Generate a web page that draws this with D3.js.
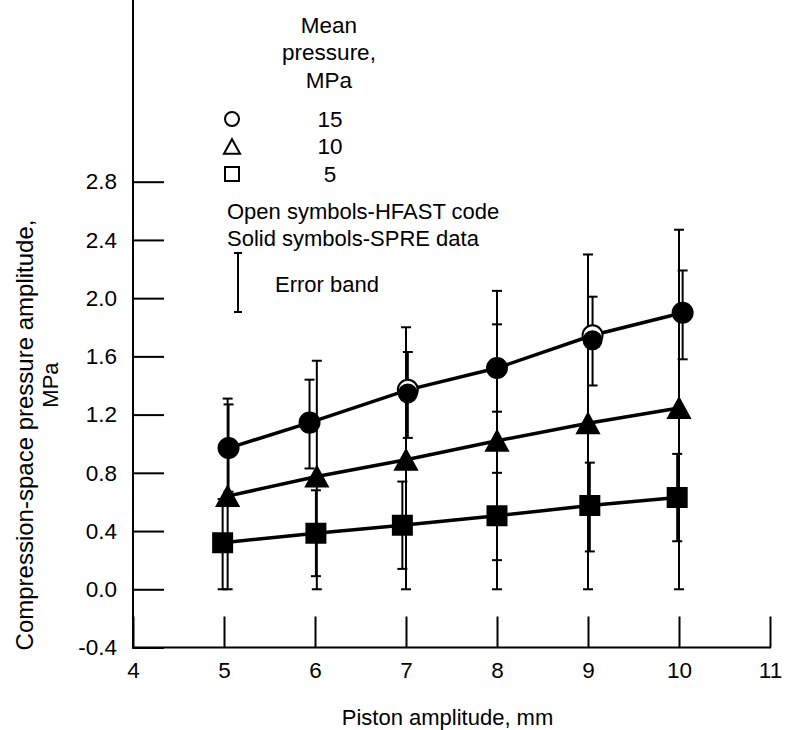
<!DOCTYPE html>
<html>
<head>
<meta charset="utf-8">
<script src="https://cdn.jsdelivr.net/npm/d3@7"></script>
<style>
  html, body { margin: 0; padding: 0; background: #fff; }
  svg text { font-family: "Liberation Sans", Arial, Helvetica, sans-serif; fill: #000; }
</style>
</head>
<body>
<svg id="chart" width="792" height="730"></svg>
<script>
// ---------- data ----------
const xTicks = [4, 5, 6, 7, 8, 9, 10, 11];
const yTicks = [-0.4, 0.0, 0.4, 0.8, 1.2, 1.6, 2.0, 2.4, 2.8];

// HFAST code (open symbols, joined by lines)
const code15 = [0.97, 1.145, 1.37, 1.52, 1.745, 1.90];
const code10 = [0.64, 0.775, 0.89, 1.02, 1.14, 1.245];
const code5  = [0.32, 0.385, 0.44, 0.505, 0.575, 0.63];

// SPRE data (solid symbols): x, value, error band low/high
const spre15X    = [5.05, 5.94, 7.02, 8.00, 9.05, 10.04];
const spre15     = [0.97, 1.145, 1.345, 1.52, 1.71, 1.90];
const spre15Lo   = [0.67, 0.83, 1.04, 1.22, 1.40, 1.58];
const spre15Hi   = [1.27, 1.44, 1.63, 1.82, 2.01, 2.19];

const spre10X    = [5.04, 6.02, 7.00, 8.00, 9.00, 10.00];
const spre10     = [0.64, 0.775, 0.89, 1.02, 1.14, 1.245];
const spre10Lo   = [0.0, 0.0, 0.0, 0.0, 0.0, 0.0];
const spre10Hi   = [1.31, 1.57, 1.80, 2.05, 2.30, 2.47];

const spre5X     = [4.985, 6.01, 6.96, 8.00, 9.02, 9.98];
const spre5      = [0.32, 0.385, 0.44, 0.505, 0.575, 0.63];
const spre5Lo    = [0.0, 0.09, 0.14, 0.20, 0.26, 0.33];
const spre5Hi    = [0.62, 0.68, 0.74, 0.80, 0.87, 0.93];

const legendPressures = ["15", "10", "5"];
const legendShapes = ["circle", "triangle", "square"];

// ---------- layout ----------
const svg = d3.select("#chart");
const x = d3.scaleLinear().domain([4, 11]).range([133, 770]);
const y = d3.scaleLinear().domain([-0.4, 2.8]).range([647.5, 181.7]);
const FS = 22.5;

function shapePath(kind, s) {
  if (kind === "circle") {
    return `M${s},0A${s},${s} 0 1,1 ${-s},0A${s},${s} 0 1,1 ${s},0Z`;
  } else if (kind === "triangle") {
    const hw = s * 1.15, hh = s * 1.05;
    return `M0,${-hh}L${hw},${hh}L${-hw},${hh}Z`;
  } else {
    return `M${-s},${-s}H${s}V${s}H${-s}Z`;
  }
}

// ---------- axes ----------
const yAxis = d3.axisLeft(y).tickValues(yTicks).tickSize(-31).tickSizeOuter(0)
  .tickPadding(16).tickFormat(d => d.toFixed(1));
const gy = svg.append("g").attr("transform", `translate(${x(4)},0)`).call(yAxis);
gy.select(".domain").remove();
gy.selectAll(".tick line").attr("stroke", "#000").attr("stroke-width", 2);
gy.selectAll(".tick text").attr("font-size", FS);

const xAxis = d3.axisBottom(x).tickValues(xTicks).tickSize(-31).tickSizeOuter(0)
  .tickPadding(15).tickFormat(d3.format("d"));
const gx = svg.append("g").attr("transform", `translate(0,${y(-0.4)})`).call(xAxis);
gx.select(".domain").remove();
gx.selectAll(".tick line").attr("stroke", "#000").attr("stroke-width", 2);
gx.selectAll(".tick text").attr("font-size", FS);

svg.append("line").attr("x1", x(4)).attr("x2", x(4)).attr("y1", 0).attr("y2", y(-0.4) + 1)
  .attr("stroke", "#000").attr("stroke-width", 2);
svg.append("line").attr("x1", x(4) - 1).attr("x2", x(11) + 1).attr("y1", y(-0.4)).attr("y2", y(-0.4))
  .attr("stroke", "#000").attr("stroke-width", 2);

// axis titles
svg.append("text").attr("x", (x(4) + x(11)) / 2 - 4).attr("y", 717).attr("dy", "0.35em")
  .attr("text-anchor", "middle").attr("font-size", 22).text("Piston amplitude, mm");
svg.append("text").attr("transform", `translate(25,435) rotate(-90)`).attr("dy", "0.35em")
  .attr("text-anchor", "middle").attr("font-size", 24).text("Compression-space pressure amplitude,");
svg.append("text").attr("transform", `translate(50,385) rotate(-90)`).attr("dy", "0.35em")
  .attr("text-anchor", "middle").attr("font-size", 22).text("MPa");

// ---------- series ----------
const series = [
  { shape: "circle", size: 10, code: code15, sx: spre15X, sv: spre15, lo: spre15Lo, hi: spre15Hi },
  { shape: "triangle", size: 9.5, code: code10, sx: spre10X, sv: spre10, lo: spre10Lo, hi: spre10Hi },
  { shape: "square", size: 9.5, code: code5, sx: spre5X, sv: spre5, lo: spre5Lo, hi: spre5Hi }
];

const line = d3.line().x(d => x(d[0])).y(d => y(d[1]));
const plot = svg.append("g");

// error bars
series.forEach(s => {
  const g = plot.append("g");
  s.sx.forEach((xv, i) => {
    const cx = x(xv);
    g.append("line").attr("x1", cx).attr("x2", cx).attr("y1", y(s.lo[i])).attr("y2", y(s.hi[i]))
      .attr("stroke", "#000").attr("stroke-width", 2);
    [s.lo[i], s.hi[i]].forEach(v => {
      g.append("line").attr("x1", cx - 5).attr("x2", cx + 5).attr("y1", y(v)).attr("y2", y(v))
        .attr("stroke", "#000").attr("stroke-width", 2);
    });
  });
});

// code lines
series.forEach(s => {
  plot.append("path").datum(s.sx.map((xv, i) => [xv, s.code[i]]))
    .attr("d", line).attr("fill", "none").attr("stroke", "#000").attr("stroke-width", 3.5);
});

// open symbols (code)
series.forEach(s => {
  plot.append("g").selectAll("path").data(s.sx).join("path")
    .attr("transform", (xv, i) => `translate(${x(xv)},${y(s.code[i])})`)
    .attr("d", shapePath(s.shape, s.size))
    .attr("fill", "#fff").attr("stroke", "#000").attr("stroke-width", 2);
});

// solid symbols (SPRE)
series.forEach(s => {
  plot.append("g").selectAll("path").data(s.sx).join("path")
    .attr("transform", (xv, i) => `translate(${x(xv)},${y(s.sv[i])})`)
    .attr("d", shapePath(s.shape, s.size))
    .attr("fill", "#000").attr("stroke", "none");
});

// ---------- legend ----------
const lg = svg.append("g");
["Mean", "pressure,", "MPa"].forEach((t, i) => {
  lg.append("text").attr("x", 329).attr("y", 25 + i * 27.5).attr("dy", "0.35em")
    .attr("text-anchor", "middle").attr("font-size", FS).text(t);
});
legendShapes.forEach((sh, i) => {
  const cy = 119 + i * 27.5;
  lg.append("path").attr("transform", `translate(232,${cy})`)
    .attr("d", shapePath(sh, 7))
    .attr("fill", "#fff").attr("stroke", "#000").attr("stroke-width", 2);
  lg.append("text").attr("x", 330).attr("y", cy).attr("dy", "0.35em")
    .attr("text-anchor", "middle").attr("font-size", FS).text(legendPressures[i]);
});
lg.append("text").attr("x", 227).attr("y", 211).attr("dy", "0.35em")
  .attr("font-size", 22).text("Open symbols-HFAST code");
lg.append("text").attr("x", 227).attr("y", 238).attr("dy", "0.35em")
  .attr("font-size", 22).text("Solid symbols-SPRE data");
lg.append("line").attr("x1", 238).attr("x2", 238).attr("y1", 253).attr("y2", 312)
  .attr("stroke", "#000").attr("stroke-width", 2);
[253, 312].forEach(v => lg.append("line").attr("x1", 234).attr("x2", 242).attr("y1", v).attr("y2", v)
  .attr("stroke", "#000").attr("stroke-width", 2));
lg.append("text").attr("x", 275).attr("y", 284).attr("dy", "0.35em")
  .attr("font-size", 22).text("Error band");
</script>
</body>
</html>
